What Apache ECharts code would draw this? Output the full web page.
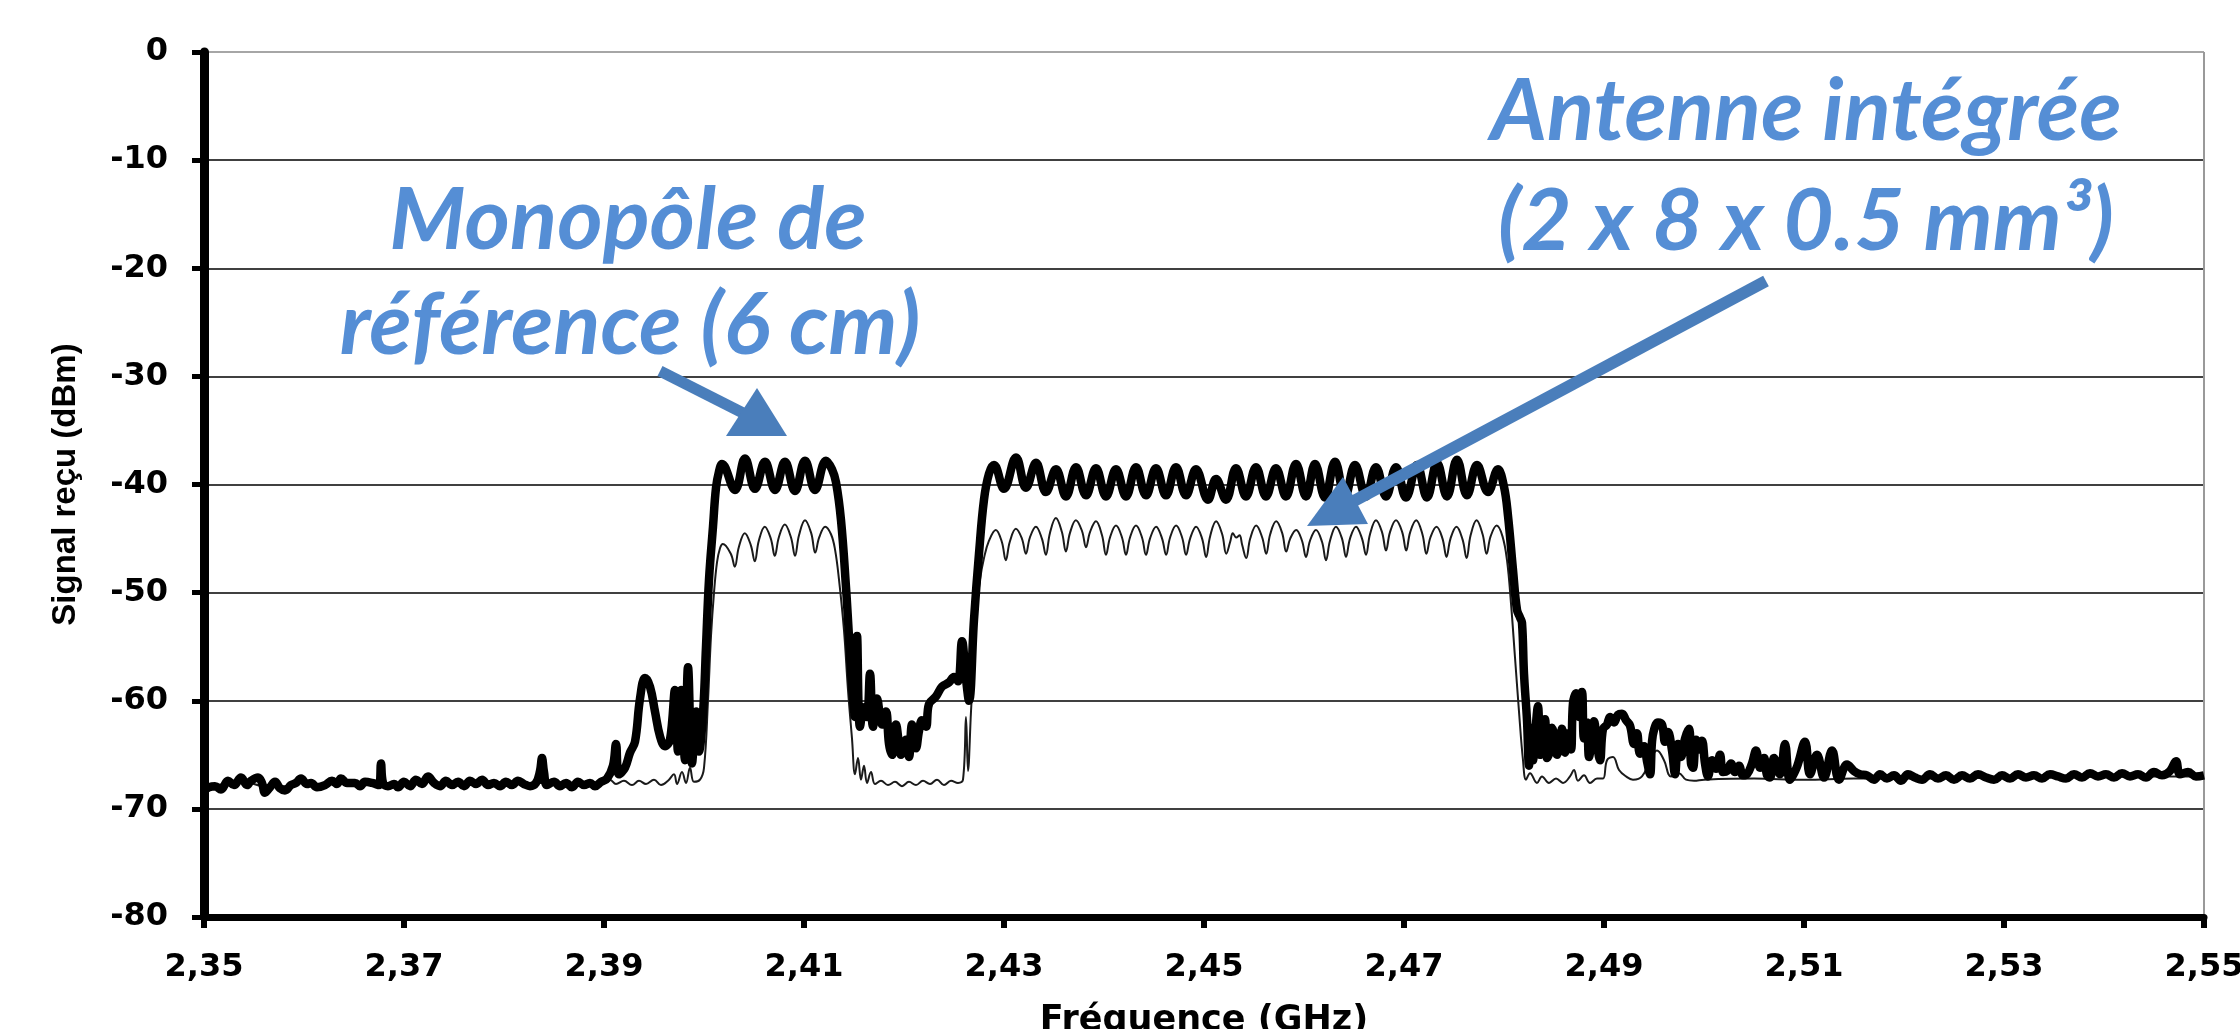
<!DOCTYPE html>
<html><head><meta charset="utf-8">
<script src="https://cdn.jsdelivr.net/npm/echarts@6/dist/echarts.min.js"></script>
<style>html,body{margin:0;padding:0;background:#fff}#c{width:2240px;height:1029px}</style>
</head><body><div id="c"></div>
<script>
// ---- axis ticks ----
const xTickValues = [2.35, 2.37, 2.39, 2.41, 2.43, 2.45, 2.47, 2.49, 2.51, 2.53, 2.55];
const yTickValues = [-80, -70, -60, -50, -40, -30, -20, -10, 0];

// ---- series: [frequency GHz, received signal dBm] ----
// thick curve : Monopôle de référence (6 cm)
const monopoleRef = [
[2.3500,-68.3],[2.3505,-68.0],[2.3511,-67.9],[2.3517,-68.2],[2.3524,-67.4],[2.3530,-67.8],[2.3537,-67.1],[2.3543,-67.8],[2.3547,-67.4],[2.3554,-67.1],
[2.3558,-67.6],[2.3561,-68.5],[2.3566,-68.0],[2.3571,-67.5],[2.3576,-68.1],[2.3581,-68.3],[2.3587,-67.8],[2.3592,-67.6],[2.3597,-67.2],[2.3603,-67.7],
[2.3607,-67.6],[2.3613,-68.0],[2.3621,-67.8],[2.3628,-67.4],[2.3633,-67.7],[2.3637,-67.2],[2.3643,-67.6],[2.3651,-67.6],[2.3656,-67.9],[2.3661,-67.5],
[2.3668,-67.6],[2.3675,-67.8],[2.3677,-65.8],[2.3679,-67.6],[2.3684,-67.9],[2.3690,-67.7],[2.3694,-68.0],[2.3700,-67.5],[2.3706,-67.9],[2.3712,-67.3],
[2.3718,-67.7],[2.3724,-67.0],[2.3730,-67.6],[2.3736,-67.9],[2.3742,-67.4],[2.3748,-67.8],[2.3754,-67.5],[2.3760,-67.9],[2.3766,-67.4],[2.3772,-67.7],
[2.3778,-67.3],[2.3784,-67.8],[2.3790,-67.6],[2.3796,-67.9],[2.3802,-67.5],[2.3808,-67.8],[2.3814,-67.4],[2.3820,-67.7],[2.3826,-67.9],[2.3832,-67.6],
[2.3836,-66.5],[2.3838,-65.3],[2.3840,-66.6],[2.3843,-67.8],[2.3850,-67.5],[2.3856,-67.9],[2.3862,-67.6],[2.3868,-68.0],[2.3874,-67.5],[2.3880,-67.8],
[2.3886,-67.6],[2.3891,-67.9],[2.3897,-67.5],[2.3903,-67.2],
[2.3909,-66.0],[2.3912,-64.0],[2.3915,-66.8],[2.3921,-66.2],[2.3926,-64.8],[2.3931,-63.8],[2.3936,-59.8],[2.3941,-57.9],[2.3946,-58.7],[2.3951,-61.0],
[2.3956,-63.3],[2.3961,-64.2],[2.3966,-63.6],[2.3971,-59.0],[2.3974,-64.7],[2.3977,-59.0],[2.3981,-65.5],[2.3984,-56.9],[2.3988,-65.8],[2.3992,-61.0],
[2.3995,-64.7],[2.3999,-61.2],[2.4002,-55.0],[2.4005,-48.8],[2.4009,-43.9],[2.4012,-40.3],[2.4015,-38.8],
[2.4018,-38.1],[2.4031,-40.5],[2.4041,-37.6],[2.4051,-40.4],[2.4061,-37.9],[2.4071,-40.5],[2.4081,-37.9],[2.4091,-40.6],[2.4101,-37.8],[2.4111,-40.5],[2.4122,-37.8],
[2.4128,-38.6],[2.4132,-39.8],[2.4137,-43.3],[2.4142,-49.5],[2.4145,-54.1],[2.4148,-58.5],[2.4151,-61.5],[2.4153,-54.0],[2.4156,-62.4],[2.4160,-60.6],
[2.4163,-61.5],[2.4166,-57.5],[2.4169,-62.4],[2.4173,-59.8],[2.4178,-62.2],[2.4182,-61.0],[2.4185,-64.0],[2.4188,-65.0],[2.4192,-62.2],[2.4195,-64.0],[2.4197,-65.0],[2.4202,-63.6],
[2.4205,-65.2],[2.4208,-62.2],[2.4212,-64.4],[2.4215,-62.8],[2.4218,-61.8],[2.4222,-62.4],[2.4225,-60.3],[2.4232,-59.6],[2.4238,-58.7],[2.4245,-58.3],[2.4250,-57.8],[2.4254,-58.2],[2.4258,-54.5],
[2.4262,-58.0],[2.4265,-60.0],[2.4270,-52.5],[2.4275,-46.4],[2.4280,-41.4],[2.4285,-39.0],
[2.4290,-38.2],[2.4300,-40.4],[2.4312,-37.5],[2.4322,-40.3],[2.4332,-38.0],[2.4342,-40.7],[2.4352,-38.6],[2.4362,-41.1],[2.4372,-38.4],[2.4382,-41.0],
[2.4392,-38.5],[2.4402,-41.1],[2.4412,-38.6],[2.4422,-41.1],[2.4432,-38.4],[2.4442,-41.0],[2.4452,-38.5],[2.4462,-41.0],[2.4472,-38.4],[2.4482,-41.0],
[2.4492,-38.6],[2.4504,-41.4],[2.4512,-39.5],[2.4522,-41.4],[2.4532,-38.5],[2.4542,-41.1],[2.4552,-38.4],[2.4562,-41.1],[2.4572,-38.5],[2.4582,-41.1],
[2.4592,-38.1],[2.4602,-41.1],[2.4611,-38.1],[2.4621,-41.2],[2.4631,-37.9],[2.4641,-41.1],[2.4651,-38.2],[2.4662,-41.1],[2.4672,-38.4],[2.4682,-41.1],
[2.4692,-38.4],[2.4702,-41.2],[2.4713,-38.2],[2.4723,-41.2],[2.4733,-38.0],[2.4743,-41.1],[2.4753,-37.7],[2.4763,-41.0],[2.4773,-38.2],[2.4784,-40.7],[2.4794,-38.6],
[2.4800,-40.2],[2.4804,-42.9],[2.4809,-47.9],[2.4813,-51.6],[2.4816,-52.3],[2.4818,-52.8],[2.4820,-57.5],[2.4823,-61.8],
[2.4825,-66.0],[2.4827,-62.5],[2.4829,-65.5],[2.4831,-63.2],[2.4834,-60.5],[2.4836,-65.0],[2.4838,-63.8],[2.4841,-61.7],[2.4843,-65.3],[2.4846,-64.6],
[2.4848,-62.5],[2.4851,-63.4],[2.4853,-65.0],[2.4856,-63.9],[2.4858,-62.6],[2.4861,-64.8],[2.4864,-63.0],[2.4867,-64.5],[2.4869,-60.2],[2.4872,-59.3],
[2.4875,-61.5],[2.4878,-59.2],[2.4880,-63.5],[2.4883,-62.0],[2.4885,-65.2],[2.4888,-63.2],[2.4890,-61.9],[2.4893,-64.0],[2.4896,-65.5],[2.4899,-62.6],
[2.4903,-62.2],[2.4906,-61.5],[2.4910,-62.0],[2.4914,-61.3],[2.4918,-61.2],[2.4922,-61.8],[2.4926,-62.3],[2.4930,-64.0],[2.4933,-63.0],[2.4936,-64.9],
[2.4940,-64.2],[2.4943,-65.6],[2.4946,-66.8],[2.4948,-63.8],[2.4950,-62.7],[2.4954,-62.0],[2.4958,-62.2],[2.4961,-63.8],[2.4964,-62.9],[2.4968,-64.6],
[2.4971,-66.8],[2.4974,-64.0],[2.4977,-65.2],[2.4981,-63.5],[2.4985,-62.6],[2.4987,-65.8],[2.4989,-66.2],[2.4992,-63.6],[2.4995,-64.5],[2.4998,-63.7],
[2.5001,-65.8],[2.5004,-67.0],[2.5008,-65.5],[2.5012,-66.3],[2.5016,-65.0],[2.5019,-66.6],[2.5023,-66.5],[2.5027,-65.8],[2.5031,-66.6],[2.5035,-66.0],
[2.5039,-66.9],[2.5043,-66.8],[2.5048,-65.8],[2.5052,-64.6],[2.5056,-66.2],[2.5060,-65.3],[2.5063,-66.9],[2.5066,-67.1],[2.5070,-65.3],[2.5076,-66.8],
[2.5081,-64.0],[2.5086,-67.3],[2.5093,-66.1],[2.5101,-63.8],[2.5106,-66.8],[2.5113,-65.0],[2.5120,-67.1],[2.5128,-64.6],[2.5135,-67.3],[2.5143,-65.9],
[2.5150,-66.5],[2.5156,-66.8],
[2.5163,-66.9],[2.5170,-67.3],[2.5176,-66.8],[2.5183,-67.2],[2.5190,-66.9],[2.5197,-67.4],[2.5204,-66.8],[2.5211,-67.1],[2.5218,-67.3],[2.5226,-66.8],
[2.5234,-67.2],[2.5242,-66.9],[2.5250,-67.3],[2.5258,-66.9],[2.5266,-67.2],[2.5274,-66.8],[2.5282,-67.1],[2.5290,-67.3],[2.5298,-66.9],[2.5306,-67.2],
[2.5314,-66.8],[2.5322,-67.1],[2.5330,-66.9],[2.5338,-67.2],[2.5346,-66.8],[2.5354,-67.0],[2.5362,-67.2],[2.5370,-66.8],[2.5378,-67.1],[2.5386,-66.7],
[2.5394,-67.0],[2.5402,-66.8],[2.5410,-67.1],[2.5418,-66.7],[2.5426,-67.0],[2.5434,-66.8],[2.5442,-67.1],[2.5450,-66.6],[2.5458,-66.9],[2.5466,-66.5],
[2.5472,-65.6],[2.5476,-66.8],[2.5484,-66.6],[2.5492,-67.0],[2.5500,-66.9]
];

// thin curve : Antenne intégrée (2 x 8 x 0.5 mm³)
const antenneInt = [
[2.3500,-68.1],[2.3520,-67.7],[2.3540,-67.5],[2.3560,-67.9],[2.3580,-67.9],[2.3600,-67.5],[2.3620,-67.8],[2.3640,-67.5],[2.3660,-67.6],[2.3680,-67.7],
[2.3700,-67.6],[2.3720,-67.5],[2.3740,-67.6],[2.3760,-67.7],[2.3780,-67.5],[2.3800,-67.6],[2.3820,-67.6],[2.3840,-67.6],[2.3860,-67.7],[2.3880,-67.7],[2.3900,-67.6],
[2.3906,-67.3],[2.3912,-67.7],[2.3920,-67.4],[2.3928,-67.8],[2.3935,-67.4],[2.3942,-67.7],[2.3950,-67.3],[2.3957,-67.8],[2.3964,-67.4],[2.3970,-66.8],
[2.3973,-67.7],[2.3978,-66.6],[2.3982,-67.6],[2.3986,-66.2],[2.3990,-67.5],[2.3996,-67.3],[2.4000,-66.2],[2.4004,-60.0],[2.4007,-54.0],[2.4010,-50.0],
[2.4013,-47.2],[2.4016,-45.9],
[2.40188,-45.5],[2.40268,-46.4],[2.40308,-47.6],[2.40348,-45.8],[2.40408,-44.5],[2.40468,-45.6],[2.40508,-47.1],[2.40548,-45.2],[2.40608,-43.9],[2.40668,-45.0],
[2.40708,-46.6],[2.40748,-44.9],[2.40808,-43.7],[2.40870,-44.9],[2.40910,-46.6],[2.40950,-44.7],[2.41010,-43.3],[2.41072,-44.5],[2.41112,-46.3],[2.41152,-44.9],[2.41212,-43.9],
[2.4127,-44.6],[2.4131,-46.0],[2.4135,-48.8],[2.4140,-53.5],[2.4144,-59.0],[2.4148,-63.5],[2.4151,-66.8],[2.4154,-65.3],[2.4157,-67.3],[2.4160,-66.0],
[2.4163,-67.6],[2.4167,-66.6],[2.4171,-67.7],[2.4177,-67.4],[2.4184,-67.8],[2.4191,-67.5],[2.4198,-67.9],[2.4205,-67.5],[2.4212,-67.8],[2.4219,-67.4],
[2.4226,-67.7],[2.4233,-67.3],[2.4240,-67.8],[2.4247,-67.4],[2.4254,-67.6],[2.4259,-67.3],[2.4262,-61.5],[2.4264,-66.5],[2.4267,-61.0],[2.4270,-56.0],
[2.4273,-51.5],[2.4276,-48.8],[2.4280,-46.8],[2.4285,-45.2],
[2.42918,-44.2],[2.42978,-45.3],[2.43018,-47.0],[2.43058,-45.3],[2.43119,-44.1],[2.43179,-45.0],[2.43219,-46.4],[2.43259,-44.9],[2.43319,-43.9],[2.43379,-45.0],
[2.43419,-46.5],[2.43459,-44.5],[2.43519,-43.1],[2.43579,-44.4],[2.43619,-46.2],[2.43659,-44.5],[2.43719,-43.3],[2.43780,-44.3],[2.43820,-45.8],[2.43860,-44.4],
[2.43920,-43.4],[2.43980,-44.7],[2.44020,-46.5],[2.44060,-44.9],[2.44120,-43.8],[2.44180,-44.9],[2.44220,-46.5],[2.44260,-44.9],[2.44320,-43.8],[2.44380,-44.9],
[2.44420,-46.5],[2.44460,-45.0],[2.44521,-43.9],[2.44581,-45.0],[2.44621,-46.5],[2.44661,-44.9],[2.44721,-43.8],[2.44781,-44.9],[2.44821,-46.5],[2.44861,-45.0],
[2.44921,-43.9],[2.44981,-45.0],[2.45021,-46.7],[2.45061,-44.8],[2.45121,-43.4],[2.45182,-44.6],[2.45222,-46.4],[2.45262,-45.3],[2.45288,-44.5],[2.45322,-44.9],
[2.45355,-44.7],[2.45382,-45.6],[2.45422,-46.8],[2.45462,-45.0],[2.45522,-43.8],[2.45582,-44.9],[2.45622,-46.4],[2.45662,-44.6],[2.45722,-43.4],[2.45782,-44.5],
[2.45822,-46.2],[2.45862,-45.0],[2.45922,-44.2],[2.45980,-45.2],[2.46020,-46.7],[2.46060,-45.2],[2.46120,-44.2],[2.46180,-45.3],[2.46220,-47.0],[2.46260,-45.2],
[2.46320,-43.9],[2.46380,-45.0],[2.46420,-46.7],[2.46460,-45.0],[2.46520,-43.9],[2.46580,-45.0],[2.46620,-46.5],[2.46660,-44.6],[2.46720,-43.3],[2.46780,-44.4],
[2.46820,-46.1],[2.46860,-44.4],[2.46920,-43.3],[2.46982,-44.4],[2.47022,-46.1],[2.47062,-44.4],[2.47122,-43.3],[2.47184,-44.6],[2.47224,-46.4],[2.47264,-44.9],
[2.47325,-43.9],[2.47385,-45.0],[2.47425,-46.7],[2.47465,-45.0],[2.47525,-43.9],[2.47586,-45.1],[2.47626,-46.8],[2.47666,-44.7],[2.47726,-43.3],[2.47786,-44.6],
[2.47826,-46.4],[2.47866,-44.8],[2.47927,-43.8],
[2.47985,-44.8],[2.4803,-47.0],[2.4807,-51.0],[2.4811,-56.0],[2.4815,-61.0],[2.4819,-65.5],[2.4822,-67.3],
[2.4826,-66.7],[2.4833,-67.6],[2.4838,-67.0],[2.4845,-67.6],[2.4852,-67.2],[2.4859,-67.6],[2.4866,-67.0],[2.4870,-66.4],[2.4874,-67.4],[2.4880,-66.9],
[2.4886,-67.6],[2.4893,-67.2],[2.4899,-67.2],[2.4903,-65.5],[2.4909,-65.2],[2.4915,-66.4],[2.4922,-67.0],[2.4929,-67.3],[2.4938,-67.0],[2.4947,-65.3],
[2.4953,-64.6],[2.4960,-65.5],[2.4967,-67.0],[2.4975,-66.7],[2.4982,-67.3],[2.4990,-67.4],[2.5000,-67.3],[2.5050,-67.2],[2.5100,-67.3],[2.5150,-67.2],
[2.5200,-67.2],[2.5300,-67.1],[2.5400,-67.0],[2.5500,-67.0]
];

// ---- annotation texts ----
const noteMonopole = ['Monopôle de', 'référence (6 cm)'];
const noteAntenne = ['Antenne intégrée', '(2 x 8 x 0.5 mm³)'];

const TEXT_BLUE = '#558ED5';
const ARROW_BLUE = '#4A7EBB';
const annFont = 'italic bold 87px Lato, "Open Sans", sans-serif';

const chart = echarts.init(document.getElementById('c'), null, {renderer: 'canvas', width: 2240, height: 1029});

const ySplitColors = yTickValues.map(v => v === 0 ? '#a6a6a6' : '#404040');
const xSplitColors = xTickValues.map((v, i) => i === xTickValues.length - 1 ? '#999999' : 'rgba(0,0,0,0)');

chart.setOption({
  animation: false,
  backgroundColor: '#ffffff',
  grid: {left: 204, right: 36, top: 52, bottom: 112, containLabel: false, outerBoundsMode: 'none'},
  xAxis: {
    type: 'value',
    min: xTickValues[0], max: xTickValues[xTickValues.length - 1], interval: 0.02,
    name: 'Fréquence (GHz)', nameLocation: 'middle', nameGap: 86,
    nameTextStyle: {fontFamily: 'DejaVu Sans', fontWeight: 'bold', fontSize: 35, color: '#000'},
    axisLine: {show: true, onZero: false, lineStyle: {color: '#000', width: 7}},
    axisTick: {show: true, inside: false, length: 11, lineStyle: {color: '#000', width: 6}},
    axisLabel: {show: true, margin: 35, fontFamily: 'DejaVu Sans', fontWeight: 'bold', fontSize: 32, color: '#000',
      formatter: v => v.toFixed(2).replace('.', ',')},
    splitLine: {show: true, lineStyle: {color: xSplitColors, width: 2}}
  },
  yAxis: {
    type: 'value',
    min: yTickValues[0], max: yTickValues[yTickValues.length - 1], interval: 10,
    name: 'Signal reçu (dBm)', nameLocation: 'middle', nameRotate: 90, nameGap: 122,
    nameTextStyle: {fontFamily: 'Liberation Sans', fontWeight: 'bold', fontSize: 33, color: '#000'},
    axisLine: {show: true, onZero: false, lineStyle: {color: '#000', width: 9}},
    axisTick: {show: true, inside: false, length: 12, lineStyle: {color: '#000', width: 5}},
    axisLabel: {show: true, margin: 36, fontFamily: 'DejaVu Sans', fontWeight: 'bold', fontSize: 32, color: '#000'},
    splitLine: {show: true, lineStyle: {color: ySplitColors, width: 2}}
  },
  series: [
    {name: 'Antenne intégrée', type: 'line', data: antenneInt, symbol: 'none', smooth: 0.4, z: 2,
     lineStyle: {color: '#1a1a1a', width: 2}},
    {name: 'Monopôle de référence', type: 'line', data: monopoleRef, symbol: 'none', smooth: 0.4, z: 3,
     lineStyle: {color: '#000', width: 8.5, join: 'round'}}
  ],
  graphic: [
    {type: 'text', z: 100, x: 628, y: 221, style: {text: noteMonopole[0], font: annFont, fill: TEXT_BLUE, align: 'center', verticalAlign: 'middle'}},
    {type: 'text', z: 100, x: 630, y: 326, style: {text: noteMonopole[1], font: annFont, fill: TEXT_BLUE, align: 'center', verticalAlign: 'middle'}},
    {type: 'text', z: 100, x: 1806, y: 112, style: {text: noteAntenne[0], font: annFont, fill: TEXT_BLUE, align: 'center', verticalAlign: 'middle'}},
    {type: 'text', z: 100, x: 1806, y: 222, style: {text: noteAntenne[1], font: annFont, fill: TEXT_BLUE, align: 'center', verticalAlign: 'middle'}},
    {type: 'line', z: 100, shape: {x1: 660, y1: 371, x2: 745, y2: 414}, style: {stroke: ARROW_BLUE, lineWidth: 11, lineCap: 'butt'}},
    {type: 'polygon', z: 100, shape: {points: [[757, 388], [726, 436], [787, 436]]}, style: {fill: ARROW_BLUE}},
    {type: 'line', z: 100, shape: {x1: 1766, y1: 281, x2: 1352, y2: 502}, style: {stroke: ARROW_BLUE, lineWidth: 12, lineCap: 'butt'}},
    {type: 'polygon', z: 100, shape: {points: [[1343, 477], [1368, 524], [1307, 526]]}, style: {fill: ARROW_BLUE}}
  ]
});
</script>
</body></html>
